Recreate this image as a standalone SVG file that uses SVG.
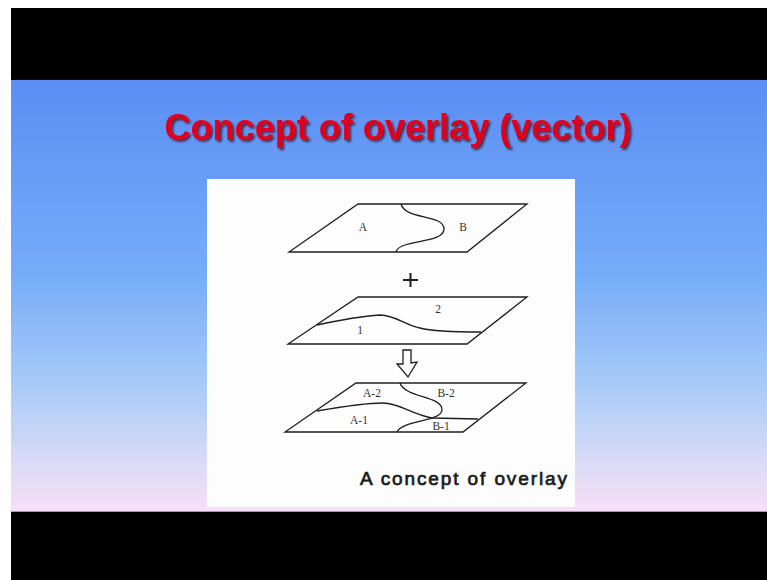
<svg xmlns="http://www.w3.org/2000/svg" width="767" height="580" viewBox="0 0 767 580">
  <defs>
    <linearGradient id="bg" x1="0" y1="0" x2="0" y2="1">
      <stop offset="0" stop-color="#5a8ef5"/>
      <stop offset="0.45" stop-color="#76acf8"/>
      <stop offset="0.7" stop-color="#a6caf7"/>
      <stop offset="0.88" stop-color="#d8dbf6"/>
      <stop offset="1" stop-color="#f8def8"/>
    </linearGradient>
    <filter id="shadow" x="-5%" y="-20%" width="110%" height="140%">
      <feGaussianBlur in="SourceAlpha" stdDeviation="1.2"/>
      <feOffset dx="1.5" dy="1.5" result="b"/>
      <feFlood flood-color="#3a0010" flood-opacity="0.7"/>
      <feComposite in2="b" operator="in"/>
      <feMerge><feMergeNode/><feMergeNode in="SourceGraphic"/></feMerge>
    </filter>
  </defs>
  <style>
    .plane{fill:none;stroke:#1e1e1e;stroke-width:1.3;stroke-linejoin:miter}
    .bnd{fill:none;stroke:#1e1e1e;stroke-width:1.3}
    .lbl{font-family:"Liberation Serif","Times New Roman",serif;font-size:11.5px;fill:#333;text-anchor:middle}
    .title{font-family:"Liberation Sans",Arial,sans-serif;font-weight:bold;font-size:36px;fill:#e0001b;text-anchor:middle}
    .cap{font-family:"Liberation Sans",Arial,sans-serif;font-size:19px;fill:#1a1a1a;stroke:#1a1a1a;stroke-width:0.7}
  </style>
  <rect x="0" y="0" width="767" height="580" fill="#ffffff"/>
  <rect x="11" y="8" width="756" height="72" fill="#000000"/>
  <rect x="11" y="79" width="756" height="1" fill="#1a0508"/>
  <rect x="11" y="80" width="756" height="432" fill="url(#bg)"/>
  <rect x="11" y="511" width="756" height="1" fill="#a898a8"/>
  <rect x="11" y="512" width="756" height="68" fill="#000000"/>

  <text class="title" x="398" y="140" textLength="467" lengthAdjust="spacingAndGlyphs" filter="url(#shadow)">Concept of overlay (vector)</text>

  <rect x="207" y="179" width="368" height="328" fill="#fdfdfd"/>

  <g id="layer-ab">
    <path class="plane" d="M358,204 L527,204 L467,252 L289,252 Z"/>
    <path class="bnd" d="M401,204 C405,220 444,214 444,229 C444,244 399,239 396,252"/>
    <text class="lbl" x="363" y="231">A</text>
    <text class="lbl" x="463" y="231">B</text>
  </g>

  <g id="plus">
    <path d="M403,280 L418,280 M410.5,273 L410.5,287" stroke="#1e1e1e" stroke-width="2" fill="none"/>
  </g>

  <g id="layer-12">
    <path class="plane" d="M358,297 L527,297 L467,344 L288,344 Z"/>
    <path class="bnd" d="M317,325 C340,320 365,316 380,315 C395,315 405,325 420,328 C435,332 460,332 481,332"/>
    <text class="lbl" x="360" y="334">1</text>
    <text class="lbl" x="438" y="313">2</text>
  </g>

  <g id="connectors">
    <path d="M403,350 L411,350 L411,363 L417,362 L408,377 L397,364 L403,364 Z" fill="#ffffff" stroke="#1e1e1e" stroke-width="1.3" stroke-linejoin="miter"/>
  </g>

  <g id="layer-overlay">
    <path class="plane" d="M356,383 L526,383 L463,432 L285,432 Z"/>
    <path class="bnd" d="M400,383 C405,398 443,396 442,410 C441,422 402,420 397,432"/>
    <path class="bnd" d="M317,411 C340,407 365,403 383,403 C400,403 410,414 432,418 L478,419"/>
    <text class="lbl" x="372" y="397">A-2</text>
    <text class="lbl" x="446" y="397">B-2</text>
    <text class="lbl" x="359" y="424">A-1</text>
    <text class="lbl" x="441" y="430">B-1</text>
  </g>

  <text class="cap" x="360" y="485" textLength="207" lengthAdjust="spacing">A concept of overlay</text>
</svg>
